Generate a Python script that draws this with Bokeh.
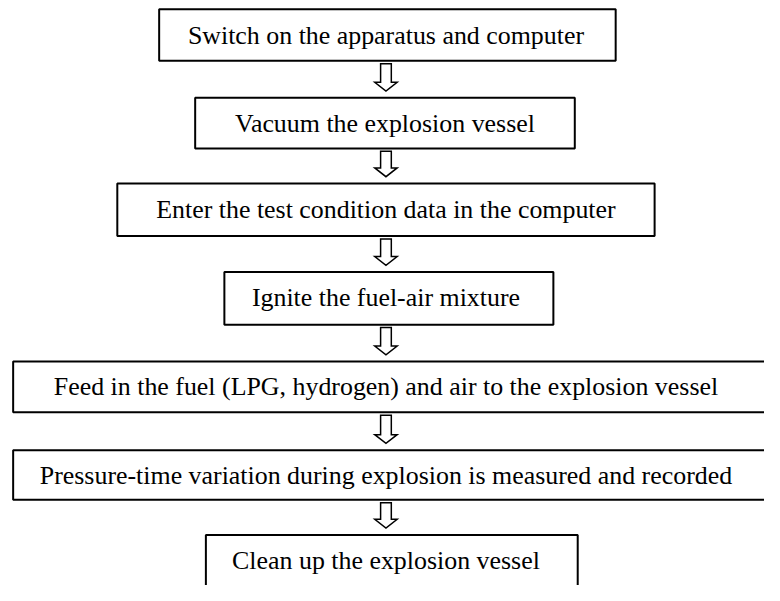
from bokeh.plotting import figure
from bokeh.models import ColumnDataSource, Range1d
from bokeh.core.properties import value
from bokeh.embed import file_html
from bokeh.resources import INLINE

# ---- content (data) ----
steps = [
    "Switch on the apparatus and computer",
    "Vacuum the explosion vessel",
    "Enter the test condition data in the computer",
    "Ignite the fuel-air mixture",
    "Feed in the fuel (LPG, hydrogen) and air to the explosion vessel",
    "Pressure-time variation during explosion is measured and recorded",
    "Clean up the explosion vessel",
]

# ---- layout (positions in reference pixel space) ----
box_left = [163, 200, 120, 230, 13, 13, 211]
box_right = [632, 590, 672, 568, 800, 800, 593]
box_top = [9, 100, 188, 279, 371, 462, 549]
box_bottom = [62, 152, 242, 333, 423, 513, 610]
flow_cx = 396

REF_H = 601
W, H = 764, 585
scale = H / REF_H
p = figure(width=W, height=H, output_backend="svg", toolbar_location=None,
           x_range=Range1d(0, W / scale), y_range=Range1d(REF_H, 0),
           min_border=0, min_border_left=0, min_border_right=0,
           min_border_top=0, min_border_bottom=0)
p.axis.visible = False
p.xgrid.visible = False
p.ygrid.visible = False
p.outline_line_color = None
p.background_fill_color = "white"
p.border_fill_color = "white"

# boxes
box_src = ColumnDataSource(dict(left=box_left, right=box_right,
                                 top=box_top, bottom=box_bottom))
p.quad(left="left", right="right", top="top", bottom="bottom", source=box_src,
       fill_color="white", line_color="black", line_width=2)

# hollow arrows between boxes
xs, ys = [], []
sw, hw = 5.5, 11.5
for i in range(len(steps) - 1):
    b = box_bottom[i]
    t = box_top[i + 1]
    st = b + 3
    hs = t - 16
    tip = t - 7
    xs.append([flow_cx - sw, flow_cx + sw, flow_cx + sw, flow_cx + hw,
               flow_cx, flow_cx - hw, flow_cx - sw])
    ys.append([st, st, hs, hs, tip, hs, hs])
p.patches(xs, ys, fill_color="white", line_color="black", line_width=1.5,
          line_join="miter")

# labels
tx = [(l + min(r, 2 * flow_cx - l)) / 2 for l, r in zip(box_left, box_right)]
ty = [(a + min(b, a + 53)) / 2 for a, b in zip(box_top, box_bottom)]
txt_src = ColumnDataSource(dict(x=tx, y=ty, text=steps))
p.text(x="x", y="y", text="text", source=txt_src,
       text_font=value("Liberation Serif"),
       text_font_size=f"{26.6 * scale:.1f}px",
       text_align="center", text_baseline="middle", text_color="black")

open("out.html", "w").write(file_html(p, INLINE))
